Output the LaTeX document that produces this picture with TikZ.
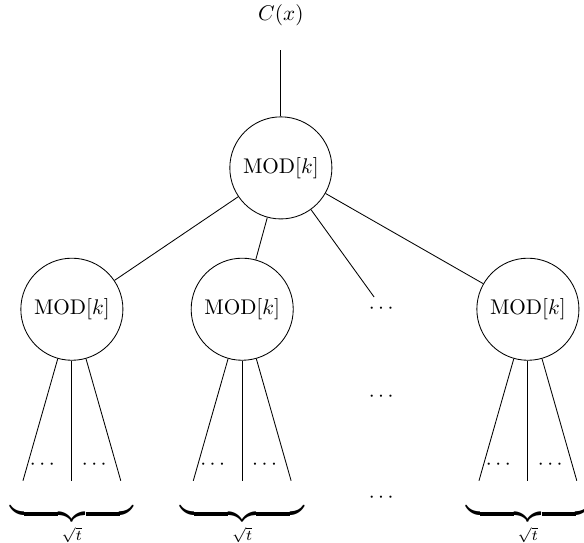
\documentclass[tikz,border=0pt]{standalone}
\usepackage{amsmath}

\tikzset{
    modnode/.style={draw, circle, minimum size=1.69cm, inner sep=0pt},
    bracenode/.style={anchor=base, inner sep=0pt, font=\Large}
}
\def\modk{$\mathrm{MOD}[k]$}
\def\leafbrace{$\underbrace{\hspace{58pt}}_{\text{\scriptsize$\sqrt{t}$}}$}

\begin{document}
\begin{tikzpicture}
    \useasboundingbox (0,0) rectangle (9.669,8.990);

    %% The output and the root gate
    \node (output) at (4.65,8.73) {$C(x)$};
    \coordinate (outwire) at (4.65,8.16);
    \node [modnode] (root) at (4.65,6.21) {\modk};
    \draw (root) -- (outwire);

    %% The second layer
    \node [modnode] (modA) at (1.19,3.87) {\modk};
    \node [modnode] (modB) at (4.01,3.87) {\modk};
    \node (middots) at (6.34,3.87) {$\cdots$};
    \node [modnode] (modC) at (8.74,3.87) {\modk};
    \draw (root) -- (modA);
    \draw (root) -- (modB);
    \draw (root) -- (middots);
    \draw (root) -- (modC);

    %% Dots in the middle column
    \node (middotsB) at (6.34,2.42) {$\cdots$};
    \node (middotsC) at (6.34,0.75) {$\cdots$};

    %% Inputs of the first gate
    \coordinate (leafAl) at (0.38,1.03);
    \coordinate (leafAm) at (1.19,1.03);
    \coordinate (leafAr) at (2.00,1.03);
    \draw (modA) -- (leafAl);
    \draw (modA) -- (leafAm);
    \draw (modA) -- (leafAr);
    \node (dotsAl) at (0.73,1.29) {$\cdots$};
    \node (dotsAr) at (1.59,1.29) {$\cdots$};
    \node [bracenode] (braceA) at (1.19,0.62) {\leafbrace};

    %% Inputs of the second gate
    \coordinate (leafBl) at (3.20,1.03);
    \coordinate (leafBm) at (4.01,1.03);
    \coordinate (leafBr) at (4.82,1.03);
    \draw (modB) -- (leafBl);
    \draw (modB) -- (leafBm);
    \draw (modB) -- (leafBr);
    \node (dotsBl) at (3.55,1.29) {$\cdots$};
    \node (dotsBr) at (4.41,1.29) {$\cdots$};
    \node [bracenode] (braceB) at (4.01,0.62) {\leafbrace};

    %% Inputs of the last gate
    \coordinate (leafCl) at (7.93,1.03);
    \coordinate (leafCm) at (8.74,1.03);
    \coordinate (leafCr) at (9.55,1.03);
    \draw (modC) -- (leafCl);
    \draw (modC) -- (leafCm);
    \draw (modC) -- (leafCr);
    \node (dotsCl) at (8.28,1.29) {$\cdots$};
    \node (dotsCr) at (9.14,1.29) {$\cdots$};
    \node [bracenode] (braceC) at (8.74,0.62) {\leafbrace};

\end{tikzpicture}
\end{document}
